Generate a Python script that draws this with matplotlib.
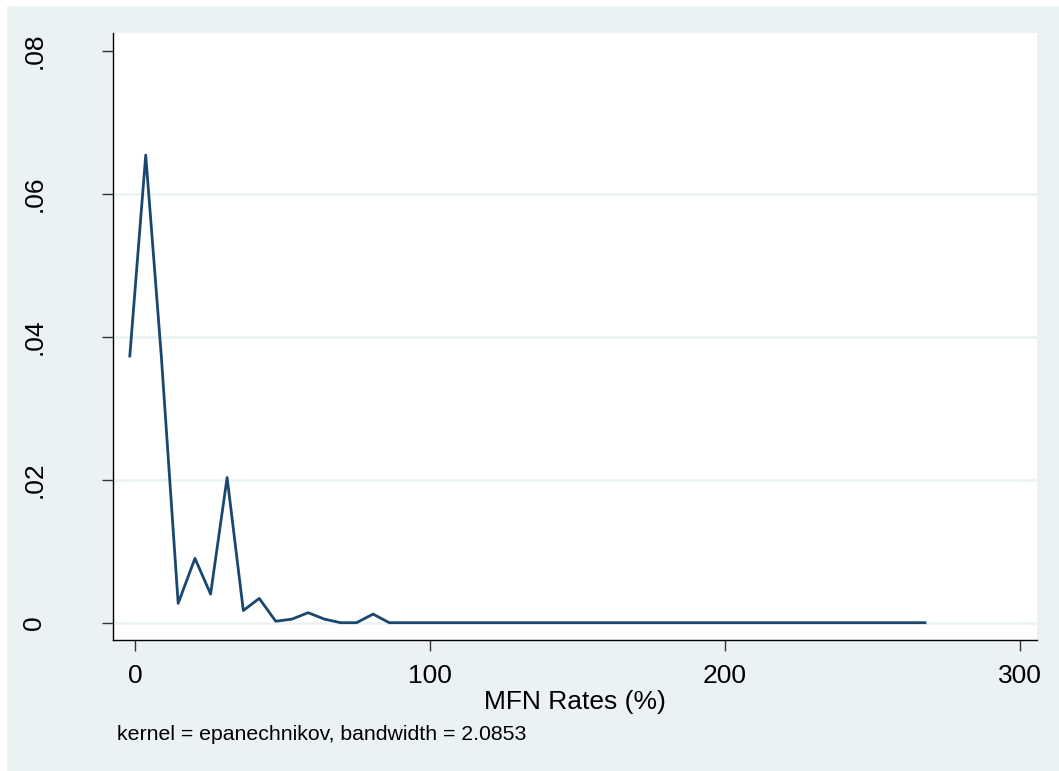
import matplotlib.pyplot as plt
from matplotlib.patches import Rectangle

# kernel density estimate of MFN rates
rate = [-1.9, 3.5, 8.8, 14.5, 20.2, 25.5, 31.1, 36.6, 42.0, 47.6, 53.1,
        58.6, 64.1, 69.6, 75.0, 80.6, 86.1, 267.8]
density = [0.0373, 0.0654, 0.0372, 0.0027, 0.0090, 0.0040, 0.0203, 0.0017,
           0.0034, 0.0002, 0.0005, 0.0014, 0.0005, 0.0, 0.0, 0.0012, 0.0, 0.0]

xticks = [0, 100, 200, 300]
yticks = [0, 0.02, 0.04, 0.06, 0.08]
ytick_labels = ['0', '.02', '.04', '.06', '.08']
grid_y = [0, 0.02, 0.04, 0.06]

W, H = 1059, 771
plt.rcParams['font.family'] = ['Liberation Sans', 'DejaVu Sans']

fig = plt.figure(figsize=(W / 100, H / 100), dpi=100)
fig.patch.set_facecolor('white')
# stata-like light background panel
fig.patches.append(Rectangle((7 / W, 0), 1 - 7 / W, 1 - 6 / H,
                             transform=fig.transFigure, facecolor='#EAF2F3',
                             edgecolor='none', zorder=-10))

ax = fig.add_axes([113 / W, 1 - 640 / H, (1037 - 113) / W, (640 - 33) / H])
ax.set_zorder(1)
ax.set_facecolor('white')

for g in grid_y:
    ax.axhline(g, color='#EAF2F3', lw=1.8, zorder=1)

ax.plot(rate, density, color='#1A476F', lw=2.0, zorder=3)

ax.set_xlim(-7.6, 305.8)
ax.set_ylim(-0.00242, 0.08247)
ax.set_xticks(xticks)
ax.set_xticklabels([str(t) for t in xticks], fontsize=19)
ax.set_yticks(yticks)
ax.set_yticklabels(ytick_labels, fontsize=19, rotation=90, va='center')

ax.tick_params(axis='x', direction='out', length=8, width=1, color='#333333', pad=9)
ax.tick_params(axis='y', direction='out', length=8, width=1, color='#333333', pad=40)

for s in ['top', 'right']:
    ax.spines[s].set_visible(False)
for s in ['left', 'bottom']:
    ax.spines[s].set_color('black')
    ax.spines[s].set_linewidth(1.0)

ax.set_xlabel('MFN Rates (%)', fontsize=19, labelpad=2)
fig.text(117 / W, 1 - 740 / H, 'kernel = epanechnikov, bandwidth = 2.0853',
         fontsize=15.3, ha='left', va='baseline')

fig.savefig('out.png', dpi=100, facecolor=fig.get_facecolor())
